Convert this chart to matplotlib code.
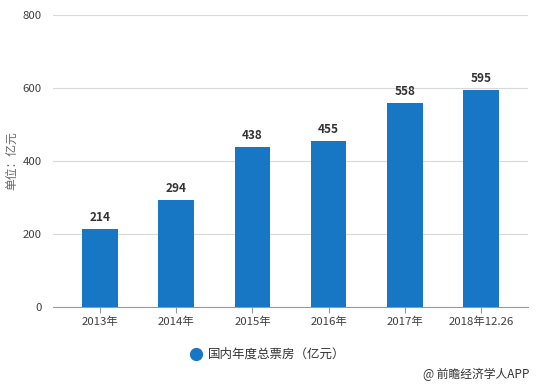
import numpy as np
import matplotlib.pyplot as plt

plt.rcParams['font.family'] = ['Noto Sans CJK SC', 'DejaVu Sans']

years = ['2013年', '2014年', '2015年', '2016年', '2017年', '2018年12.26']
box_office = [214, 294, 438, 455, 558, 595]

bar_color = '#1777c4'
text_color = '#404040'

fig = plt.figure(figsize=(5.36, 3.86), dpi=100)
ax = fig.add_axes([0.099, 0.205, 0.886, 0.756])

x = np.arange(len(years))
ax.bar(x, box_office, width=0.47, color=bar_color, zorder=3)
for xi, v in zip(x, box_office):
    ax.text(xi, v + 14, str(v), ha='center', va='bottom', fontsize=8.5,
            fontweight='bold', color='#333333')

ax.set_xlim(-0.62, len(years) - 0.38)
ax.set_ylim(0, 800)
ax.set_yticks([0, 200, 400, 600, 800])
ax.grid(axis='y', color='#d9d9d9', linewidth=0.8, zorder=0)
ax.set_xticks(x)
ax.set_xticklabels(years)
ax.tick_params(axis='x', length=4, color='#999999', labelsize=8.2, labelcolor=text_color, pad=3)
ax.tick_params(axis='y', length=0, labelsize=8.2, labelcolor=text_color, pad=8)
for s in ['top', 'right', 'left']:
    ax.spines[s].set_visible(False)
ax.spines['bottom'].set_color('#999999')

fig.text(0.022, 0.585, '单位：亿元', rotation=90, ha='center', va='center',
         fontsize=8.5, color='#666666')

# legend
fig.lines.append(plt.Line2D([0.366], [0.083], marker='o', markersize=8.5,
                            color=bar_color, transform=fig.transFigure))
fig.text(0.388, 0.083, '国内年度总票房（亿元）', ha='left', va='center',
         fontsize=9, color='#333333')

fig.text(0.987, 0.030, '@ 前瞻经济学人APP', ha='right', va='center',
         fontsize=8.5, color='#333333')

fig.savefig('out.png', dpi=100)
